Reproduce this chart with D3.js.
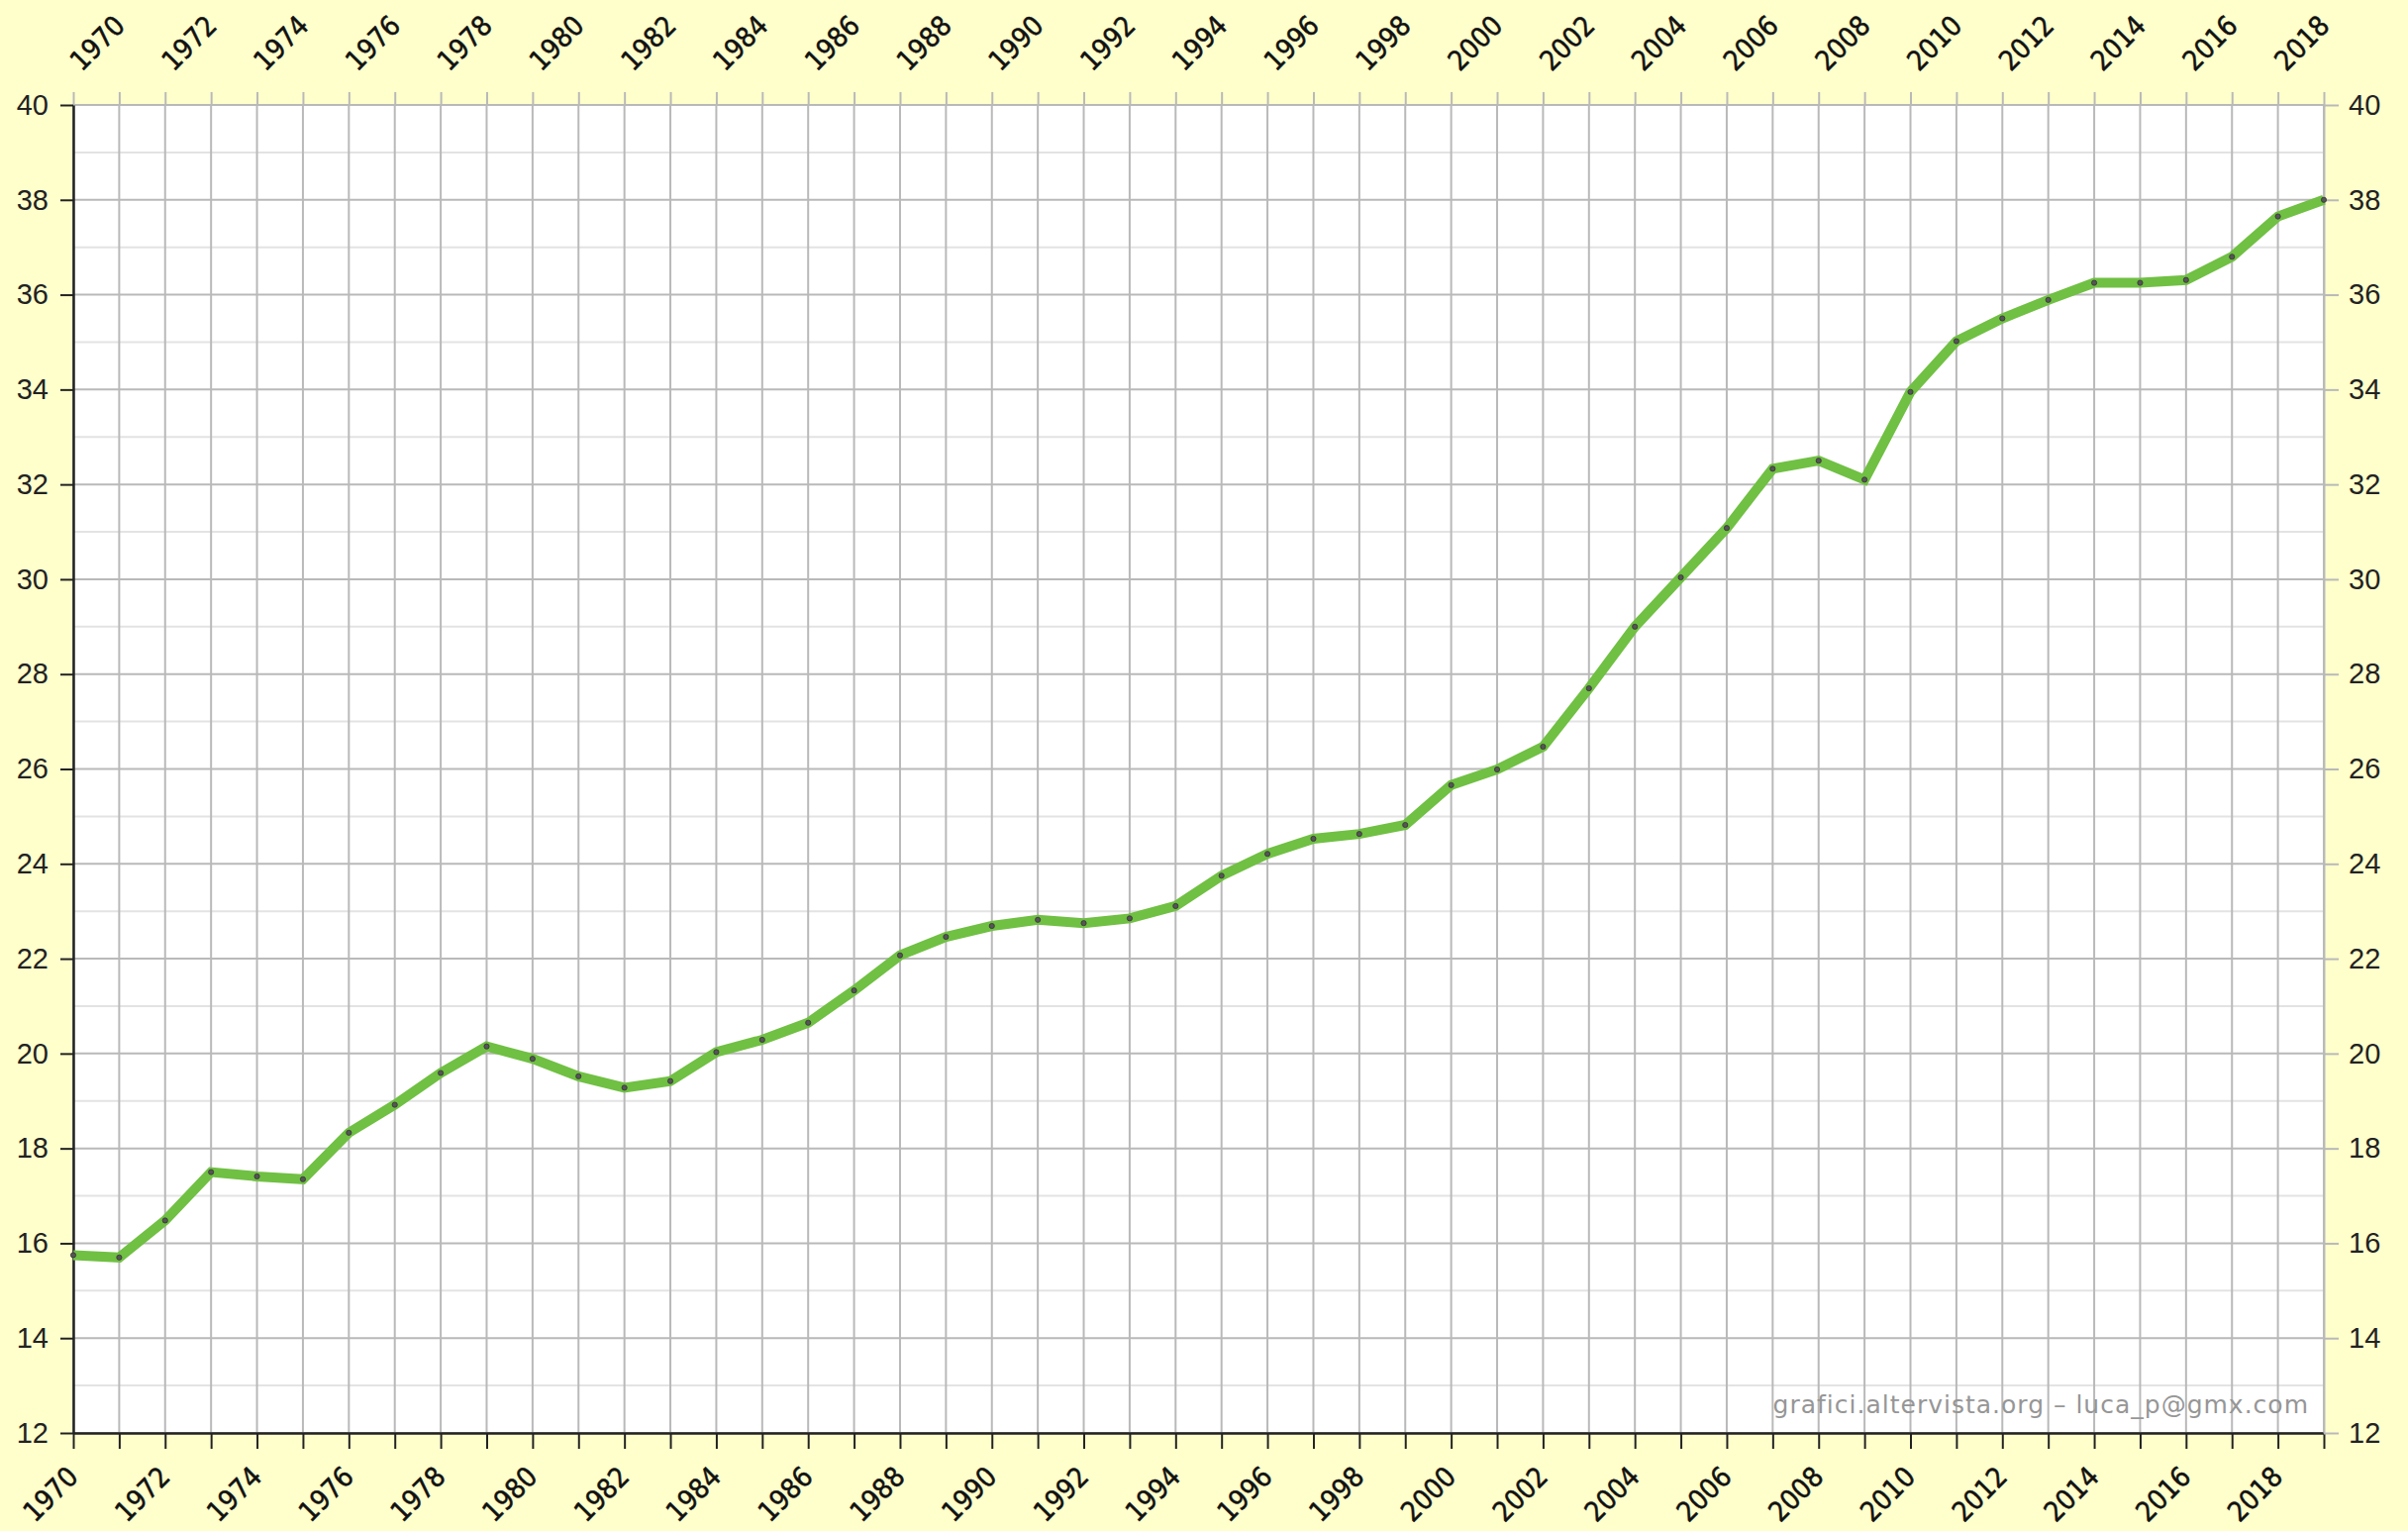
<!DOCTYPE html>
<html>
<head>
<meta charset="utf-8">
<script src="https://cdn.jsdelivr.net/npm/d3@7"></script>
<style>
  body { margin: 0; background: #ffffcc; }
  svg { display: block; }
  .tick text { font-family: "Liberation Sans", Arial, sans-serif; }
  .year-axis .tick text { font-family: "DejaVu Sans Condensed", "DejaVu Sans", sans-serif; font-stretch: condensed; }
</style>
</head>
<body>
<svg id="chart" width="2432" height="1546"></svg>
<script>
// ----------

const YEARS = d3.range(1970, 2020);
const VALUES = [
  15.75, 15.7, 16.48, 17.5, 17.41, 17.35, 18.33, 18.92, 19.59, 20.15,
  19.89, 19.52, 19.28, 19.42, 20.03, 20.29, 20.65, 21.33, 22.07, 22.46,
  22.69, 22.82, 22.75, 22.85, 23.11, 23.75, 24.21, 24.53, 24.63, 24.82,
  25.66, 25.99, 26.47, 27.7, 29.0, 30.04, 31.08, 32.33, 32.5, 32.1,
  33.95, 35.02, 35.5, 35.89, 36.25, 36.25, 36.31, 36.8, 37.65, 38.0
];
const YEAR_LABELS = d3.range(1970, 2019, 2);
const Y_MAJOR = d3.range(12, 41, 2);
const Y_MINOR = d3.range(13, 40, 2);
const CREDIT = "grafici.altervista.org – luca_p@gmx.com";

const LINE_COLOR = "#70c043";
const GRID_DARK = "#b9b9b9";
const GRID_LIGHT = "#e3e3e3";

// ----------

const svg = d3.select("#chart");
const margin = { top: 106, right: 85, bottom: 99, left: 74 };
const width = 2432 - margin.left - margin.right;
const height = 1546 - margin.top - margin.bottom;

const x = d3.scaleLinear().domain([1970, 2019]).range([0, width]);
const y = d3.scaleLinear().domain([12, 40]).range([height, 0]);

const g = svg.append("g").attr("transform", `translate(${margin.left},${margin.top})`);

g.append("rect").attr("width", width).attr("height", height).attr("fill", "#fff");

// minor horizontal grid
g.selectAll(".hminor")
  .data(Y_MINOR)
  .enter()
  .append("line")
  .attr("x1", 0)
  .attr("x2", width)
  .attr("y1", (d) => y(d))
  .attr("y2", (d) => y(d))
  .attr("stroke", GRID_LIGHT)
  .attr("stroke-width", 2);

// major horizontal grid
g.selectAll(".hmajor")
  .data(Y_MAJOR)
  .enter()
  .append("line")
  .attr("x1", 0)
  .attr("x2", width)
  .attr("y1", (d) => y(d))
  .attr("y2", (d) => y(d))
  .attr("stroke", GRID_DARK)
  .attr("stroke-width", 2);

// vertical grid, one per year
g.selectAll(".vgrid")
  .data(YEARS)
  .enter()
  .append("line")
  .attr("x1", (d) => x(d))
  .attr("x2", (d) => x(d))
  .attr("y1", 0)
  .attr("y2", height)
  .attr("stroke", GRID_DARK)
  .attr("stroke-width", 2);

// credit
g.append("text")
  .attr("x", width - 15)
  .attr("y", height - 20)
  .attr("text-anchor", "end")
  .attr("font-family", "DejaVu Sans, sans-serif")
  .attr("font-size", 25)
  .attr("letter-spacing", 1)
  .attr("fill", "#969696")
  .text(CREDIT);

// axes
const fmtYear = (d) => (YEAR_LABELS.includes(d) ? d : "");

const bottomAxis = g.append("g")
  .attr("class", "year-axis")
  .attr("transform", `translate(0,${height})`)
  .call(d3.axisBottom(x).tickValues(YEARS).tickFormat(fmtYear).tickSize(16).tickSizeOuter(0));
bottomAxis.select(".domain").attr("stroke", "#222").attr("stroke-width", 2.5);
bottomAxis.selectAll(".tick line").attr("stroke", "#222").attr("stroke-width", 2);
bottomAxis.selectAll(".tick text")
  .attr("font-size", 28)
  .attr("fill", "#111")
  .attr("stroke", "#111")
  .attr("stroke-width", 0.5)
  .attr("text-anchor", "end")
  .attr("transform", "translate(6,46) rotate(-45)")
  .attr("dy", 0)
  .attr("y", 0)
  .attr("x", 0);

const topAxis = g.append("g")
  .attr("class", "year-axis")
  .call(d3.axisTop(x).tickValues(YEARS).tickFormat(fmtYear).tickSize(13).tickSizeOuter(0));
topAxis.select(".domain").remove();
topAxis.selectAll(".tick line").attr("stroke", GRID_DARK).attr("stroke-width", 2);
topAxis.selectAll(".tick text")
  .attr("font-size", 28)
  .attr("fill", "#111")
  .attr("stroke", "#111")
  .attr("stroke-width", 0.5)
  .attr("text-anchor", "start")
  .attr("transform", "translate(8,-33) rotate(-45)")
  .attr("y", 0)
  .attr("x", 0)
  .attr("dy", 0);

const leftAxis = g.append("g")
  .call(d3.axisLeft(y).tickValues(Y_MAJOR).tickSize(13).tickSizeOuter(0).tickPadding(12));
leftAxis.select(".domain").attr("stroke", "#222").attr("stroke-width", 2.5);
leftAxis.selectAll(".tick line").attr("stroke", "#222").attr("stroke-width", 2);
leftAxis.selectAll(".tick text").attr("font-size", 29).attr("fill", "#222");

const rightAxis = g.append("g")
  .attr("transform", `translate(${width},0)`)
  .call(d3.axisRight(y).tickValues(Y_MAJOR).tickSize(15).tickSizeOuter(0).tickPadding(10));
rightAxis.select(".domain").attr("stroke", GRID_DARK).attr("stroke-width", 2);
rightAxis.selectAll(".tick line").attr("stroke", GRID_DARK).attr("stroke-width", 2);
rightAxis.selectAll(".tick text").attr("font-size", 29).attr("fill", "#222");

// series line
const line = d3.line()
  .x((d, i) => x(YEARS[i]))
  .y((d) => y(d));

g.append("path")
  .datum(VALUES)
  .attr("fill", "none")
  .attr("stroke", LINE_COLOR)
  .attr("stroke-width", 10)
  .attr("stroke-linejoin", "miter")
  .attr("d", line);

g.selectAll(".dot")
  .data(VALUES)
  .enter()
  .append("circle")
  .attr("cx", (d, i) => x(YEARS[i]))
  .attr("cy", (d) => y(d))
  .attr("r", 2.6)
  .attr("fill", "#555")
  .attr("stroke", "#333")
  .attr("stroke-width", 0.8);
</script>
</body>
</html>
